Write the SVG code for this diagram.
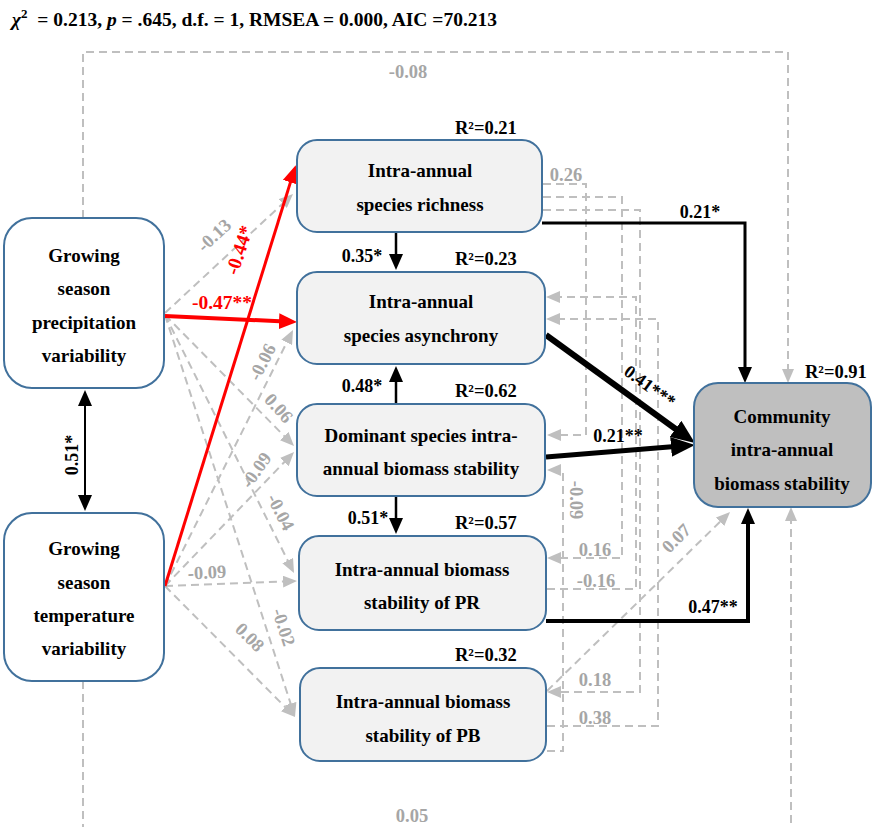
<svg xmlns="http://www.w3.org/2000/svg" width="872" height="827" viewBox="0 0 872 827">
<style>
text{font-family:"Liberation Serif","Times New Roman",serif;font-weight:bold}
.nt{font-size:19px;fill:#000;text-anchor:middle}
.box{fill:#f2f2f2;stroke:#41719c;stroke-width:2}
.wbox{fill:#fff;stroke:#41719c;stroke-width:2}
.cbox{fill:#bfbfbf;stroke:#41719c;stroke-width:2}
.gd{fill:none;stroke:#bfbfbf;stroke-width:2;stroke-dasharray:8 5}
.bl{fill:none;stroke:#000}
.rd{fill:none;stroke:#ff0000}
.gl{font-size:18.5px;fill:#a6a6a6;text-anchor:middle}
.bk{font-size:18px;fill:#000;text-anchor:middle}
.r2{font-size:18.5px;fill:#000}
.rl{font-size:19.5px;fill:#ff0000;text-anchor:middle}
</style>
<defs>
<marker id="ag" markerUnits="userSpaceOnUse" markerWidth="14" markerHeight="12" refX="4" refY="6" orient="auto"><path d="M0,0 L14,6 L0,12 z" fill="#bfbfbf"/></marker>
<marker id="ab" markerUnits="userSpaceOnUse" markerWidth="16" markerHeight="14" refX="6" refY="7" orient="auto-start-reverse"><path d="M0,0 L16,7 L0,14 z" fill="#000"/></marker>
<marker id="abL" markerUnits="userSpaceOnUse" markerWidth="24" markerHeight="20" refX="10" refY="10" orient="auto"><path d="M0,0 L24,10 L0,20 z" fill="#000"/></marker>
<marker id="ar" markerUnits="userSpaceOnUse" markerWidth="18" markerHeight="16" refX="6" refY="8" orient="auto"><path d="M0,0 L18,8 L0,16 z" fill="#ff0000"/></marker>
</defs>
<rect width="872" height="827" fill="#fff"/>

<text x="12" y="26" font-size="19.5" fill="#000" xml:space="preserve"><tspan font-style="italic">χ</tspan><tspan font-size="13" dy="-8">2</tspan><tspan dy="8">  = 0.213, </tspan><tspan font-style="italic">p</tspan><tspan> = .645, d.f. = 1, RMSEA = 0.000, AIC =70.213</tspan></text>

<g id="connectors">
  <path class="gd" d="M83,218 V52 H788 V373" marker-end="url(#ag)"/>
  <path class="gd" d="M83,681 V840 H791 V517" marker-end="url(#ag)"/>
  <path class="gd" d="M165,313 L285.7,200.9" marker-end="url(#ag)"/>
  <path class="gd" d="M165,315 L287,438.9" marker-end="url(#ag)"/>
  <path class="gd" d="M165,315 L289.5,564.1" marker-end="url(#ag)"/>
  <path class="gd" d="M165,315 L291.9,707.5" marker-end="url(#ag)"/>
  <path class="gd" d="M165,586 L288.5,338.9" marker-end="url(#ag)"/>
  <path class="gd" d="M165,586 L287.1,459.2" marker-end="url(#ag)"/>
  <path class="gd" d="M165,586 L287,581.4" marker-end="url(#ag)"/>
  <path class="gd" d="M165,586 L288,709.9" marker-end="url(#ag)"/>
  <path class="gd" d="M543,184 H586 V435 H557" marker-end="url(#ag)"/>
  <path class="gd" d="M543,197 H622 V558 H557" marker-end="url(#ag)"/>
  <path class="gd" d="M543,210 H640 V692 H557" marker-end="url(#ag)"/>
  <path class="gd" d="M547,589 H636 V297 H556" marker-end="url(#ag)"/>
  <path class="gd" d="M547,726 H658 V319 H556" marker-end="url(#ag)"/>
  <path class="gd" d="M547,751 H563 V470 H557" marker-end="url(#ag)"/>
  <path class="gd" d="M547,691 L722.9,519" marker-end="url(#ag)"/>
  <path class="rd" stroke-width="4" d="M165,316 L285,321.5" marker-end="url(#ar)"/>
  <path class="rd" stroke-width="3" d="M165,586 L292.2,176.6" marker-end="url(#ar)"/>
  <path class="bl" stroke-width="2" d="M85,400 V501" marker-start="url(#ab)" marker-end="url(#ab)"/>
  <path class="bl" stroke-width="2.5" d="M396,232 V260" marker-end="url(#ab)"/>
  <path class="bl" stroke-width="2.5" d="M396,404 V376" marker-end="url(#ab)"/>
  <path class="bl" stroke-width="2.5" d="M396,496 V524" marker-end="url(#ab)"/>
  <path class="bl" stroke-width="3" d="M542,223 H745 V373" marker-end="url(#ab)"/>
  <path class="bl" stroke-width="4" d="M546,621 H748 V518" marker-end="url(#ab)"/>
  <path class="bl" stroke-width="6" d="M546,335 L683.6,434.8" marker-end="url(#abL)"/>
  <path class="bl" stroke-width="5" d="M546,457 L681,446.1" marker-end="url(#abL)"/>
</g>

<g id="labels">
  <text class="gl" x="408" y="78">-0.08</text>
  <text class="gl" x="412" y="822">0.05</text>
  <text class="gl" transform="translate(214,235) rotate(-43)" dy="0.35em">-0.13</text>
  <text class="gl" transform="translate(262,362) rotate(-63)" dy="0.35em">-0.06</text>
  <text class="gl" transform="translate(279,408) rotate(48)" dy="0.35em">0.06</text>
  <text class="gl" transform="translate(256,470) rotate(-55)" dy="0.35em">-0.09</text>
  <text class="gl" transform="translate(281,512) rotate(63)" dy="0.35em">-0.04</text>
  <text class="gl" transform="translate(207,572) rotate(-3)" dy="0.35em">-0.09</text>
  <text class="gl" transform="translate(284,627) rotate(72)" dy="0.35em">-0.02</text>
  <text class="gl" transform="translate(250,637) rotate(45)" dy="0.35em">0.08</text>
  <text class="gl" x="566" y="181">0.26</text>
  <text class="gl" x="595" y="556">0.16</text>
  <text class="gl" x="596" y="587">-0.16</text>
  <text class="gl" x="595" y="686">0.18</text>
  <text class="gl" x="595" y="724">0.38</text>
  <text class="gl" transform="translate(576,500) rotate(90)" dy="0.35em">-0.09</text>
  <text class="gl" transform="translate(676,538) rotate(-45)" dy="0.35em">0.07</text>
  <text class="rl" x="222" y="309">-0.47**</text>
  <text class="rl" transform="translate(239,250) rotate(-71.6)" dy="0.35em">-0.44*</text>
  <text class="bk" transform="translate(72,455) rotate(-90)" dy="0.35em">0.51*</text>
  <text class="bk" x="362" y="262">0.35*</text>
  <text class="bk" x="362" y="392">0.48*</text>
  <text class="bk" x="368" y="524">0.51*</text>
  <text class="bk" x="700" y="218">0.21*</text>
  <text class="bk" transform="translate(650,386) rotate(36)" dy="0.35em">0.41***</text>
  <text class="bk" x="618" y="442">0.21**</text>
  <text class="bk" x="713" y="613">0.47**</text>
</g>

<g id="precip">
  <rect class="wbox" x="4" y="218" width="160" height="170" rx="28"/>
  <text class="nt" x="84" y="262">Growing</text>
  <text class="nt" x="84" y="295">season</text>
  <text class="nt" x="84" y="329">precipitation</text>
  <text class="nt" x="84" y="362">variability</text>
</g>
<g id="temp">
  <rect class="wbox" x="4" y="513" width="160" height="168" rx="28"/>
  <text class="nt" x="84" y="555">Growing</text>
  <text class="nt" x="84" y="589">season</text>
  <text class="nt" x="84" y="622">temperature</text>
  <text class="nt" x="84" y="655">variability</text>
</g>
<g id="richness">
  <rect class="box" x="297" y="140" width="245" height="92" rx="20"/>
  <text class="nt" x="420" y="177">Intra-annual</text>
  <text class="nt" x="420" y="211">species richness</text>
  <text class="r2" x="455" y="134">R²=0.21</text>
</g>
<g id="asynchrony">
  <rect class="box" x="297" y="272" width="248" height="92" rx="20"/>
  <text class="nt" x="421" y="308">Intra-annual</text>
  <text class="nt" x="421" y="342">species asynchrony</text>
  <text class="r2" x="455" y="265">R²=0.23</text>
</g>
<g id="dominant">
  <rect class="box" x="297" y="404" width="248" height="92" rx="20"/>
  <text class="nt" x="421" y="442">Dominant species intra-</text>
  <text class="nt" x="421" y="475">annual biomass stability</text>
  <text class="r2" x="455" y="397">R²=0.62</text>
</g>
<g id="pr">
  <rect class="box" x="299" y="536" width="247" height="94" rx="20"/>
  <text class="nt" x="422" y="576">Intra-annual biomass</text>
  <text class="nt" x="422" y="609">stability of PR</text>
  <text class="r2" x="455" y="529">R²=0.57</text>
</g>
<g id="pb">
  <rect class="box" x="300" y="668" width="246" height="93" rx="20"/>
  <text class="nt" x="423" y="708">Intra-annual biomass</text>
  <text class="nt" x="423" y="742">stability of PB</text>
  <text class="r2" x="455" y="661">R²=0.32</text>
</g>
<g id="community">
  <rect class="cbox" x="694" y="383" width="177" height="124" rx="24"/>
  <text class="nt" x="782" y="423">Community</text>
  <text class="nt" x="782" y="456">intra-annual</text>
  <text class="nt" x="782" y="490">biomass stability</text>
  <text class="r2" x="805" y="378">R²=0.91</text>
</g>
</svg>
